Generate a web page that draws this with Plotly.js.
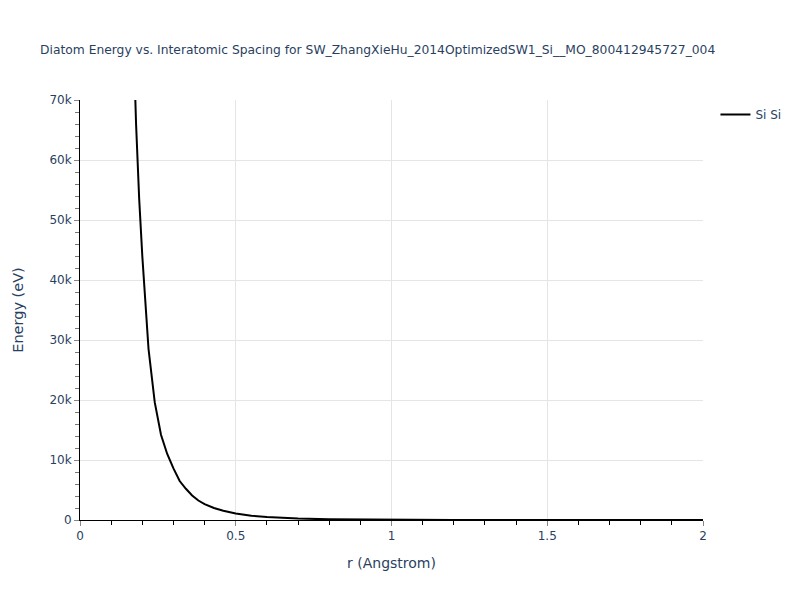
<!DOCTYPE html>
<html>
<head>
<meta charset="utf-8">
<script src="https://cdn.plot.ly/plotly-3.0.1.min.js"></script>
<style>html,body{margin:0;padding:0;background:#fff;}#chart{width:800px;height:600px;}</style>
</head>
<body>
<div id="chart"></div>
<script>
const seriesName = "Si Si";
const rValues = [0.17, 0.18, 0.19, 0.20, 0.22, 0.24, 0.26, 0.28, 0.30, 0.32, 0.34, 0.36, 0.38, 0.40, 0.43, 0.46, 0.50, 0.55, 0.60, 0.65, 0.70, 0.80, 0.90, 1.00, 1.20, 1.40, 1.60, 1.80, 2.00];
const energyValues = [83000, 66000, 53500, 44000, 28500, 19600, 14200, 11000, 8600, 6500, 5200, 4100, 3250, 2650, 2000, 1550, 1100, 720, 480, 330, 230, 120, 70, 40, 15, 6, 2, 0.5, 0];
const titleText = "Diatom Energy vs. Interatomic Spacing for SW_ZhangXieHu_2014OptimizedSW1_Si__MO_800412945727_004";

const trace = {
  x: rValues, y: energyValues, type: 'scatter', mode: 'lines', name: seriesName,
  line: {color: 'black', width: 2}
};
const layout = {
  width: 800, height: 600,
  font: {family: 'DejaVu Sans, Verdana, sans-serif', color: '#2a3f5f'},
  paper_bgcolor: 'white', plot_bgcolor: 'white',
  margin: {l: 80, r: 97, t: 100, b: 80},
  title: {text: titleText, font: {size: 12.3, color: '#2a3f5f'}, x: 0.05, xanchor: 'left', y: 0.925},
  showlegend: true,
  legend: {x: 1.02, y: 1, xanchor: 'left', yanchor: 'top', font: {size: 12, color: '#2a3f5f'}},
  xaxis: {
    title: {text: 'r (Angstrom)', font: {size: 14, color: '#2a3f5f'}, standoff: 15},
    range: [0, 2], dtick: 0.5,
    showline: true, linecolor: 'black', linewidth: 1,
    ticks: 'outside', ticklen: 5, tickcolor: '#888',
    minor: {dtick: 0.1, ticks: 'outside', ticklen: 4, tickcolor: 'black', showgrid: false},
    showgrid: true, gridcolor: '#e5e5e5', zeroline: false,
    tickfont: {size: 12, color: '#2a3f5f'}
  },
  yaxis: {
    title: {text: 'Energy (eV)', font: {size: 14.5, color: '#2a3f5f'}, standoff: 22},
    range: [0, 70000], dtick: 10000,
    showline: true, linecolor: 'black', linewidth: 1,
    ticks: 'outside', ticklen: 5, tickcolor: '#888',
    minor: {dtick: 2000, ticks: 'outside', ticklen: 4, tickcolor: '#777', showgrid: false},
    showgrid: true, gridcolor: '#e5e5e5', zeroline: false,
    tickfont: {size: 12, color: '#2a3f5f'}
  }
};
Plotly.newPlot('chart', [trace], layout, {displayModeBar: false});
</script>
</body>
</html>
